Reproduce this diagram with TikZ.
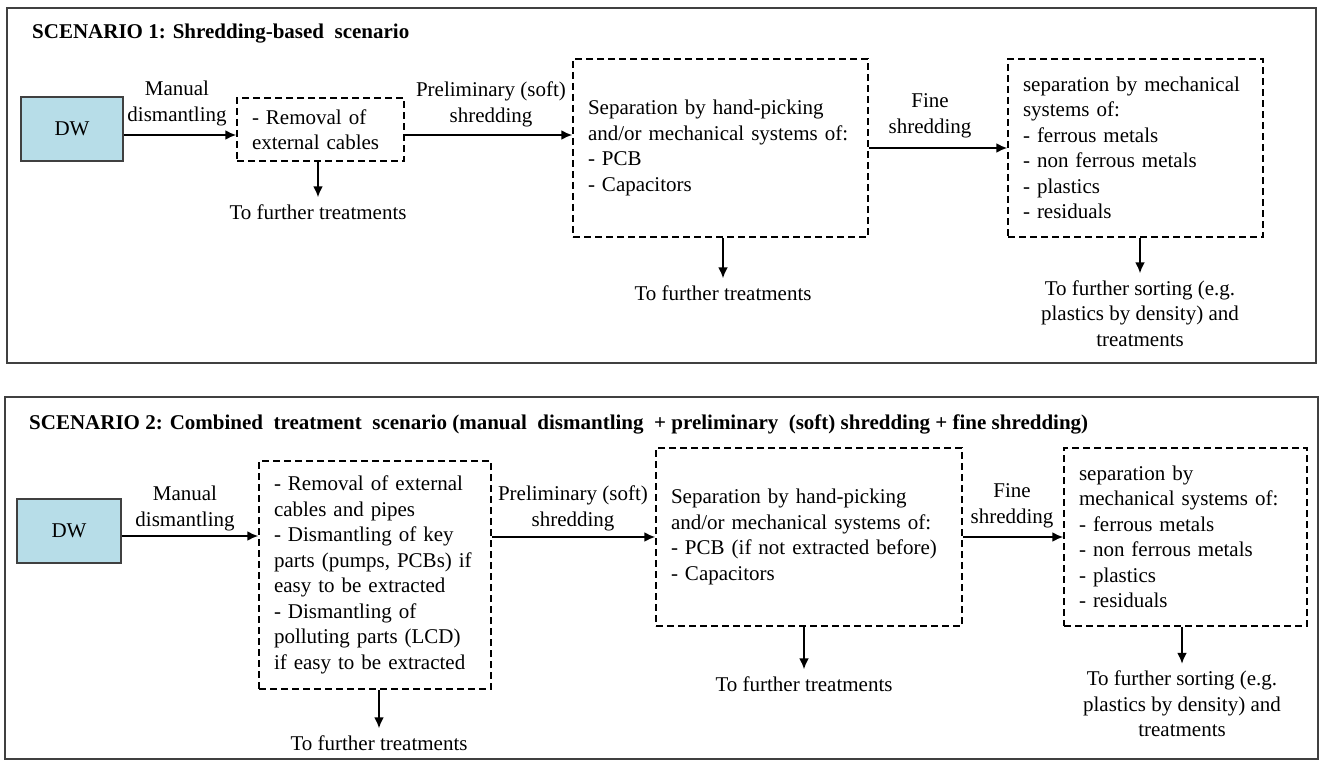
\documentclass[tikz,border=0pt]{standalone}
\usepackage{fontspec}
\setmainfont{Liberation Serif}
\usetikzlibrary{arrows.meta}
\definecolor{dwblue}{HTML}{B7DDE8}
\definecolor{framegray}{HTML}{404040}

\begin{document}
\begin{tikzpicture}[x=1pt,y=-1pt,
    every node/.style={font=\fontsize{21}{25.5}\selectfont},
    panel/.style={draw=framegray,line width=1.6pt},
    title/.style={anchor=base west,inner sep=0pt,font=\bfseries\fontsize{21}{25.5}\selectfont},
    dwbox/.style={draw=framegray,fill=dwblue,line width=1.2pt,minimum height=64pt},
    stepbox/.style={draw,line width=1.5pt,dash pattern=on 7pt off 4pt,align=left,inner xsep=15pt,inner ysep=0pt},
    arr/.style={line width=2pt,-{Latex[length=11pt,width=10pt]}},
    lbl/.style={align=center,inner sep=0pt},
    fur/.style={align=center,inner xsep=0pt,inner ysep=7pt}]
    \useasboundingbox (0,0) rectangle (1321,762);

    % Scenario 1
    \draw[panel] (7,8) rectangle (1316,363);
    \node[title] (titlea) at (32,39) {SCENARIO 1: Shredding-based\ \ scenario};

    \node[dwbox,minimum width=102pt] (dwa) at (72,129) {DW};
    \node[stepbox,minimum width=167pt,minimum height=63pt,text width=137pt] (rema) at (320.5,129.5)
        {- Removal of\\external cables};
    \node[stepbox,minimum width=295pt,minimum height=178pt,text width=265pt] (sepa) at (720.5,148)
        {Separation by hand-picking\\and/or mechanical systems of:\\- PCB\\- Capacitors};
    \node[stepbox,minimum width=255pt,minimum height=178pt,text width=225pt] (mecha) at (1135.5,148)
        {separation by mechanical\\systems of:\\- ferrous metals\\- non ferrous metals\\- plastics\\- residuals};

    % steps
    \draw[arr] ([yshift=-6pt]dwa.east) -- ([yshift=-6pt]dwa.east -| rema.west);
    \node[lbl] (mana) at (177,103.5) {Manual\\dismantling};
    \draw[arr] ([yshift=-5.5pt]rema.east) -- ([yshift=-5.5pt]rema.east -| sepa.west);
    \node[lbl] (prea) at (491,104.5) {Preliminary (soft)\\shredding};
    \draw[arr] (sepa.east) -- (mecha.west);
    \node[lbl] (finea) at (930,116) {Fine\\shredding};

    % outputs
    \node[fur] (fura) at (318,212) {To further treatments};
    \draw[arr] (fura.north |- rema.south) -- (fura.north);
    \node[fur] (furb) at (723,293) {To further treatments};
    \draw[arr] (furb.north |- sepa.south) -- (furb.north);
    \node[fur] (sorta) at (1140,313.5) {To further sorting (e.g.\\plastics by density) and\\treatments};
    \draw[arr] (sorta.north |- mecha.south) -- (sorta.north);

    % Scenario 2
    \draw[panel] (5,397) rectangle (1318,759);
    \node[title] (titleb) at (29,429) {SCENARIO 2: Combined\ \ treatment\ \ scenario (manual\ \ dismantling\ \ + preliminary\ \ (soft) shredding + fine shredding)};

    \node[dwbox,minimum width=104pt] (dwb) at (69,531) {DW};
    \node[stepbox,minimum width=232pt,minimum height=228pt,text width=202pt] (remb) at (375,575)
        {- Removal of external\\cables and pipes\\- Dismantling of key\\parts (pumps, PCBs) if\\easy to be extracted\\- Dismantling of\\polluting parts (LCD)\\if easy to be extracted};
    \node[stepbox,minimum width=306pt,minimum height=178pt,text width=276pt] (sepb) at (809,537)
        {Separation by hand-picking\\and/or mechanical systems of:\\- PCB (if not extracted before)\\- Capacitors};
    \node[stepbox,minimum width=243pt,minimum height=178pt,text width=213pt] (mechb) at (1185.5,537)
        {separation by\\mechanical systems of:\\- ferrous metals\\- non ferrous metals\\- plastics\\- residuals};

    % steps
    \draw[arr] ([yshift=-5pt]dwb.east) -- ([yshift=-5pt]dwb.east -| remb.west);
    \node[lbl] (manb) at (185,508.5) {Manual\\dismantling};
    \draw[arr] (sepb.west -| remb.east) -- (sepb.west);
    \node[lbl] (preb) at (573,508.5) {Preliminary (soft)\\shredding};
    \draw[arr] (sepb.east) -- (mechb.west);
    \node[lbl] (fineb) at (1012,506) {Fine\\shredding};

    % outputs
    \node[fur] (furc) at (379,743) {To further treatments};
    \draw[arr] (furc.north |- remb.south) -- (furc.north);
    \node[fur] (furd) at (804,684) {To further treatments};
    \draw[arr] (furd.north |- sepb.south) -- (furd.north);
    \node[fur] (sortb) at (1182,704) {To further sorting (e.g.\\plastics by density) and\\treatments};
    \draw[arr] (sortb.north |- mechb.south) -- (sortb.north);

\end{tikzpicture}
\end{document}
